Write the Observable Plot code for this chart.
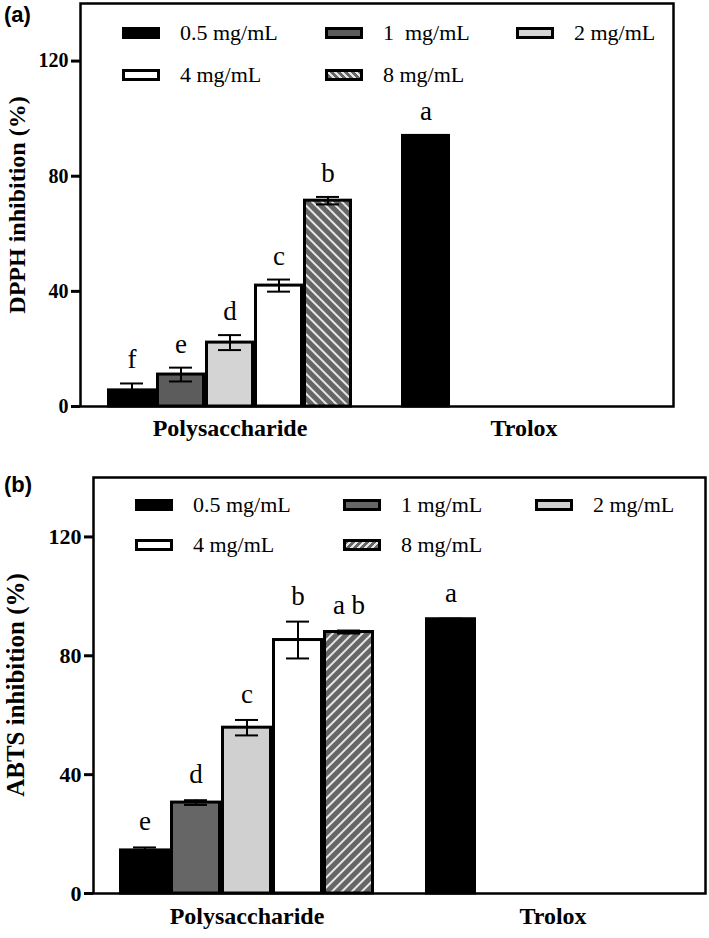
<!DOCTYPE html>
<html>
<head>
<meta charset="utf-8">
<script src="https://cdn.jsdelivr.net/npm/d3@7"></script>
<script src="https://cdn.jsdelivr.net/npm/@observablehq/plot@0.6"></script>
<style>
  body { margin: 0; background: #fff; }
  .panel { position: relative; width: 709px; }
  .plabel { position: absolute; left: 4px; font: bold 22px "Liberation Sans", Arial, sans-serif; }
  .ylab { position: absolute; white-space: nowrap; font-weight: bold; font-family: "Liberation Serif", "Times New Roman", serif; transform: translate(-50%, -50%) rotate(-90deg); line-height: 1; }
  .legend { position: absolute; display: grid; font: 22px "Liberation Serif", "Times New Roman", serif; }
  .item { display: flex; align-items: center; height: 40px; white-space: pre; }
  .sw { width: 32px; height: 6px; border: 3px solid #000; margin-right: 20px; }
  svg text { font-family: "Liberation Serif", "Times New Roman", serif; }
</style>
</head>
<body>
<svg width="0" height="0" style="position:absolute">
  <defs>
    <pattern id="hatchA" patternUnits="userSpaceOnUse" width="7" height="7" patternTransform="rotate(-45)">
      <rect width="7" height="7" fill="#666"></rect>
      <rect x="0" width="2" height="7" fill="#e6e6e6"></rect>
    </pattern>
    <pattern id="hatchB" patternUnits="userSpaceOnUse" width="7" height="7" patternTransform="rotate(45)">
      <rect width="7" height="7" fill="#666"></rect>
      <rect x="0" width="2" height="7" fill="#e6e6e6"></rect>
    </pattern>
  </defs>
</svg>
<div id="a" class="panel"></div>
<div id="b" class="panel"></div>
<script>
// ---- data ----
const groups = ["Polysaccharide", "Trolox"];
const concentrations = ["0.5 mg/mL", "1 mg/mL", "2 mg/mL", "4 mg/mL", "8 mg/mL"];
const legendLabelsA = ["0.5 mg/mL", "1  mg/mL", "2 mg/mL", "4 mg/mL", "8 mg/mL"];
const legendLabelsB = ["0.5 mg/mL", "1 mg/mL", "2 mg/mL", "4 mg/mL", "8 mg/mL"];

const dpphPolyMean = [5.6, 11.1, 22.2, 42.0, 71.5];
const dpphPolySD = [2.4, 2.4, 2.6, 2.1, 1.3];
const dpphPolyLetters = ["f", "e", "d", "c", "b"];
const dpphTroloxMean = [94.0];
const dpphTroloxSD = [0.2];
const dpphTroloxLetters = ["a"];

const abtsPolyMean = [14.5, 30.6, 55.8, 85.3, 88.0];
const abtsPolySD = [1.0, 0.8, 2.6, 6.2, 0.5];
const abtsPolyLetters = ["e", "d", "c", "b", "a b"];
const abtsTroloxMean = [92.3];
const abtsTroloxSD = [0.2];
const abtsTroloxLetters = ["a"];

const yTicks = [0, 40, 80, 120];

// ---- helpers ----
const key = (g, c) => g + "|" + c;
const slotDomain = [
  ...concentrations.map(c => key(groups[0], c)),
  "gap",
  ...concentrations.map(c => key(groups[1], c))
];

function rows(polyMean, polySD, polyLetters, trMean, trSD, trLetters) {
  const out = [];
  polyMean.forEach((m, i) => out.push({slot: key(groups[0], concentrations[i]), conc: concentrations[i], mean: m, sd: polySD[i], letter: polyLetters[i]}));
  trMean.forEach((m, i) => out.push({slot: key(groups[1], concentrations[i]), conc: concentrations[i], mean: m, sd: trSD[i], letter: trLetters[i]}));
  return out;
}

function chart(opt) {
  const data = rows(...opt.series);
  const plot = Plot.plot({
    width: 709,
    height: opt.height,
    marginLeft: opt.ml, marginRight: opt.mr, marginTop: opt.mt, marginBottom: opt.mb,
    style: {fontFamily: '"Liberation Serif", "Times New Roman", serif', background: "white", overflow: "visible"},
    x: {type: "band", domain: slotDomain, paddingInner: 0, paddingOuter: 0.5, axis: null},
    y: {domain: [0, 140], axis: null},
    color: {domain: concentrations, range: opt.fills},
    marks: [
      Plot.barY(data, {x: "slot", y: "mean", fill: "conc", stroke: "black", strokeWidth: 3, insetLeft: 1.5, insetRight: 1.5}),
      Plot.ruleX(data, {x: "slot", y1: d => d.mean - d.sd, y2: d => d.mean + d.sd, stroke: "black", strokeWidth: 2}),
      Plot.tickY(data, {x: "slot", y: d => d.mean + d.sd, stroke: "black", strokeWidth: 2, insetLeft: opt.cap, insetRight: opt.cap}),
      Plot.tickY(data, {x: "slot", y: d => d.mean - d.sd, stroke: "black", strokeWidth: 2, insetLeft: opt.cap, insetRight: opt.cap}),
      Plot.text(data, {x: "slot", y: d => d.mean + d.sd, text: "letter", dy: opt.letterDy, lineAnchor: "bottom", fontSize: 27, fill: "black"}),
      Plot.frame({stroke: "black", strokeWidth: 2.5}),
      Plot.axisY({ticks: yTicks, tickSize: 9, strokeWidth: 3, tickPadding: 3, fontSize: opt.tickFont, fontWeight: "bold", label: null}),
      Plot.axisX({ticks: [key(groups[0], concentrations[2]), key(groups[1], concentrations[2])], tickSize: 0, tickPadding: opt.xPad,
        tickFormat: d => d.split("|")[0], fontSize: 24, fontWeight: "bold", label: null})
    ]
  });
  const host = document.getElementById(opt.id);
  host.style.height = opt.height + "px";
  host.appendChild(plot);
  // y label
  const yl = document.createElement("div");
  yl.className = "ylab";
  yl.style.left = opt.ylX + "px";
  yl.style.top = (opt.mt + (opt.height - opt.mt - opt.mb) / 2) + "px";
  yl.style.fontSize = opt.labelFont + "px";
  yl.textContent = opt.ylabel;
  host.appendChild(yl);
  // panel label
  const pl = document.createElement("div");
  pl.className = "plabel";
  pl.style.top = opt.plTop + "px";
  pl.textContent = opt.panel;
  host.appendChild(pl);
  // legend
  const lg = document.createElement("div");
  lg.className = "legend";
  lg.style.left = opt.lgLeft + "px";
  lg.style.top = opt.lgTop + "px";
  lg.style.gridTemplateColumns = opt.lgCols;
  lg.style.rowGap = opt.lgGap + "px";
  concentrations.forEach((c, i) => {
    const it = document.createElement("div");
    it.className = "item";
    const sw = document.createElement("span");
    sw.className = "sw";
    sw.style.background = opt.swatches[i];
    it.appendChild(sw);
    const t = document.createElement("span");
    t.textContent = opt.legendLabels[i];
    it.appendChild(t);
    lg.appendChild(it);
  });
  host.appendChild(lg);
}

chart({
  id: "a", panel: "(a)", height: 450, ml: 80, mr: 36, mt: 3, mb: 44, plTop: 2,
  series: [dpphPolyMean, dpphPolySD, dpphPolyLetters, dpphTroloxMean, dpphTroloxSD, dpphTroloxLetters],
  fills: ["#000", "#5c5c5c", "#d4d4d4", "#fff", "url(#hatchA)"],
  swatches: ["#000", "#5c5c5c", "#d4d4d4", "#fff", "repeating-linear-gradient(45deg, #666 0 3px, #e6e6e6 3px 5px)"],
  legendLabels: legendLabelsA,
  cap: 13, tickFont: 20, ylabel: "DPPH inhibition (%)", ylX: 17, labelFont: 24, xPad: 12, letterDy: -15,
  lgLeft: 122, lgTop: 13, lgCols: "203px 191px auto", lgGap: 2
});

chart({
  id: "b", panel: "(b)", height: 488, ml: 93, mr: 4, mt: 27, mb: 45, plTop: 22,
  series: [abtsPolyMean, abtsPolySD, abtsPolyLetters, abtsTroloxMean, abtsTroloxSD, abtsTroloxLetters],
  fills: ["#000", "#666", "#d0d0d0", "#fff", "url(#hatchB)"],
  swatches: ["#000", "#666", "#d0d0d0", "#fff", "repeating-linear-gradient(-45deg, #666 0 3px, #e6e6e6 3px 5px)"],
  legendLabels: legendLabelsB,
  cap: 14, tickFont: 22, ylabel: "ABTS inhibition (%)", ylX: 15, labelFont: 25, xPad: 13, letterDy: -17,
  lgLeft: 135, lgTop: 35, lgCols: "208px 192px auto", lgGap: -2
});
</script>
</body>
</html>
